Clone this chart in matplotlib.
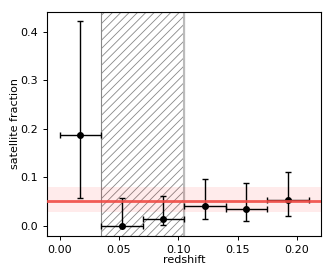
import matplotlib
matplotlib.use("Agg")
import matplotlib.pyplot as plt
import numpy as np

bin_lo = np.array([0.0, 0.035, 0.07, 0.105, 0.14, 0.175])
bin_hi = np.array([0.035, 0.07, 0.105, 0.14, 0.175, 0.21])
frac = np.array([0.187, 0.0, 0.013, 0.041, 0.034, 0.052])
frac_lo = np.array([0.056, 0.0, 0.002, 0.014, 0.010, 0.020])
frac_hi = np.array([0.421, 0.056, 0.060, 0.096, 0.088, 0.110])

mean_frac = 0.050
mean_lo, mean_hi = 0.028, 0.080
masked_lo, masked_hi = 0.035, 0.105

z = 0.5 * (bin_lo + bin_hi)
xerr = [z - bin_lo, bin_hi - z]
yerr = [frac - frac_lo, frac_hi - frac]

plt.rcParams["hatch.linewidth"] = 0.6

fig = plt.figure(figsize=(3.32, 2.77), dpi=100)
ax = fig.add_axes([0.1425, 0.149, 0.8245, 0.809])

ax.axvspan(masked_lo, masked_hi, facecolor="none", edgecolor="#888888",
           hatch="////", lw=0.8, zorder=1)
ax.axvline(masked_hi, color="#bbbbbb", lw=1.5, zorder=1)

ax.errorbar(z, frac, xerr=xerr, yerr=yerr, fmt="o", color="black",
            ms=4, elinewidth=1, capsize=2.2, capthick=1, zorder=3)

ax.axhspan(mean_lo, mean_hi, color="red", alpha=0.08, lw=0, zorder=2)
ax.axhline(mean_frac, color="#f04a44", alpha=0.9, lw=2, zorder=4)

ax.set_xlim(-0.0105, 0.2205)
ax.set_ylim(-0.021, 0.441)
ax.set_xticks([0.0, 0.05, 0.10, 0.15, 0.20])
ax.set_yticks([0.0, 0.1, 0.2, 0.3, 0.4])
ax.tick_params(labelsize=8, length=3, width=0.7)
ax.set_xlabel("redshift", fontsize=8, labelpad=0)
ax.set_ylabel("satellite fraction", fontsize=8, labelpad=0.5)
for s in ax.spines.values():
    s.set_linewidth(0.8)

fig.savefig("out.png", dpi=100)
